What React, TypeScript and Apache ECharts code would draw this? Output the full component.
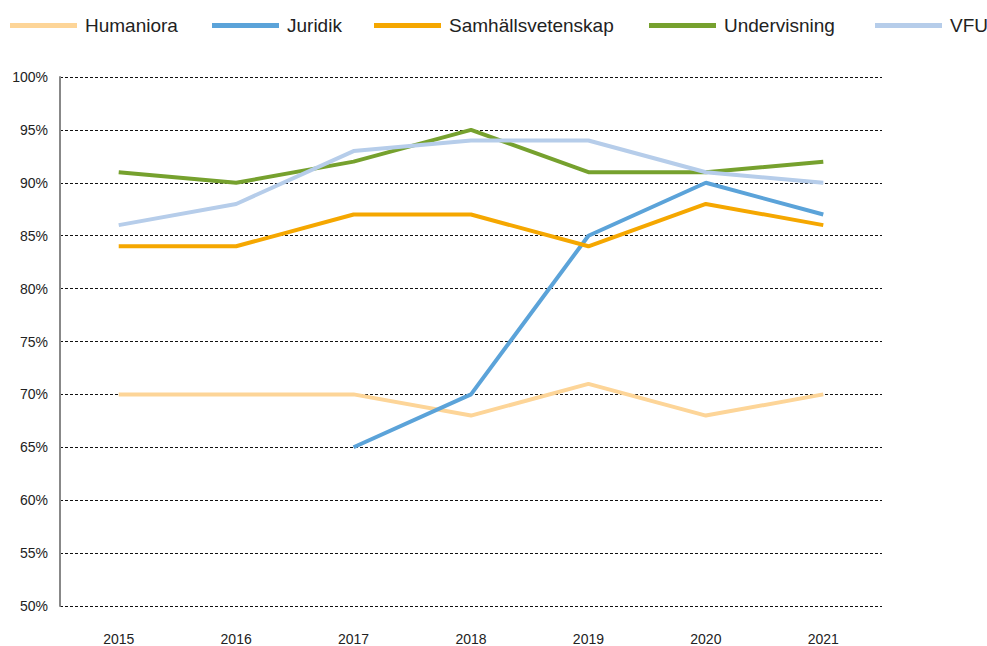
import React, { useEffect, useRef } from "react";
import * as echarts from "echarts";

const years = ["2015", "2016", "2017", "2018", "2019", "2020", "2021"];
const humaniora = [70, 70, 70, 68, 71, 68, 70];
const juridik = [null, null, 65, 70, 85, 90, 87];
const samhall = [84, 84, 87, 87, 84, 88, 86];
const undervisning = [91, 90, 92, 95, 91, 91, 92];
const vfu = [86, 88, 93, 94, 94, 91, 90];

const seriesDefs = [
  { name: "Humaniora", data: humaniora, color: "#FDD598" },
  { name: "Juridik", data: juridik, color: "#5BA3D9" },
  { name: "Samhällsvetenskap", data: samhall, color: "#F5A700" },
  { name: "Undervisning", data: undervisning, color: "#76A12E" },
  { name: "VFU", data: vfu, color: "#B6CDEA" },
];
const legendLeft = [10, 212, 374, 649, 875];

const FONT = "'Liberation Sans', Arial, sans-serif";

export default function App() {
  const ref = useRef<HTMLDivElement>(null);
  useEffect(() => {
    if (!ref.current) return;
    const chart = echarts.init(ref.current, undefined, { renderer: "svg" });
    chart.setOption({
      animation: false,
      textStyle: { fontFamily: FONT },
      legend: seriesDefs.map((s, i) => ({
        left: legendLeft[i],
        top: 16,
        padding: 0,
        itemWidth: 67,
        itemHeight: 5,
        icon: "rect",
        itemStyle: { borderWidth: 0 },
        textStyle: { fontSize: 19, color: "#222", fontFamily: FONT, padding: [0, 0, 0, 3] },
        data: [s.name],
      })),
      grid: { left: 60, right: 105, top: 77, bottom: 38 },
      xAxis: {
        type: "category",
        data: years,
        boundaryGap: true,
        axisLine: { show: false },
        axisTick: { show: false },
        axisLabel: { fontSize: 14, color: "#222", margin: 26 },
      },
      yAxis: {
        type: "value",
        min: 50,
        max: 100,
        interval: 5,
        axisLine: { show: true, lineStyle: { color: "#888", width: 2 } },
        axisTick: { show: false },
        axisLabel: { fontSize: 14, color: "#222", formatter: "{value}%", margin: 12 },
        splitLine: { lineStyle: { color: "#111", type: [3, 2], width: 1 } },
      },
      series: seriesDefs.map((s) => ({
        name: s.name,
        type: "line",
        data: s.data,
        symbol: "none",
        color: s.color,
        lineStyle: { width: 4, color: s.color },
      })),
    });
    return () => chart.dispose();
  }, []);
  return <div ref={ref} style={{ width: 987, height: 646, position: "absolute", left: 0, top: 0 }} />;
}
